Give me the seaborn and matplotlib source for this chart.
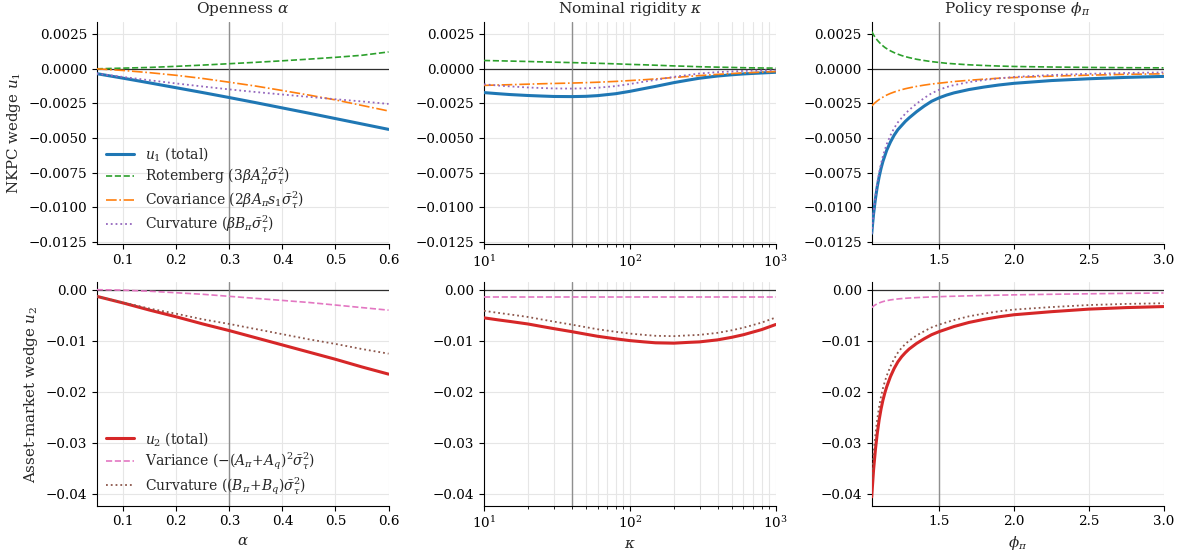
import numpy as np
import pandas as pd
import matplotlib
matplotlib.use("Agg")
import matplotlib.pyplot as plt
import seaborn as sns

# ---------------- data ----------------
alpha = [0.05, 0.10, 0.15, 0.20, 0.25, 0.30, 0.35, 0.40, 0.45, 0.50, 0.55, 0.60]
a_u1 = [-0.00035, -0.00068, -0.00102, -0.00137, -0.00172, -0.00208, -0.00245, -0.00283, -0.00321, -0.0036, -0.00399, -0.00438]
a_rot = [0.0, 0.00005, 0.0001, 0.00018, 0.00027, 0.00037, 0.00047, 0.00058, 0.0007, 0.00083, 0.00098, 0.00122]
a_cov = [0.0, -0.00012, -0.00028, -0.00047, -0.0007, -0.00097, -0.00125, -0.00157, -0.0019, -0.00225, -0.00265, -0.00305]
a_curv1 = [-0.00035, -0.00059, -0.00083, -0.00106, -0.00128, -0.00149, -0.00168, -0.00186, -0.00203, -0.00220, -0.00236, -0.00254]
a_u2 = [-0.0013, -0.0026, -0.0040, -0.0053, -0.0067, -0.0080, -0.0094, -0.0108, -0.0122, -0.0136, -0.0151, -0.0165]
a_var = [0.0, -0.0001, -0.0003, -0.0006, -0.0009, -0.0013, -0.0017, -0.0021, -0.0025, -0.0030, -0.0035, -0.0040]
a_curv2 = [-0.0013, -0.0025, -0.0037, -0.0047, -0.0058, -0.0067, -0.0077, -0.0087, -0.0097, -0.0106, -0.0116, -0.0125]

kappa = [10, 12.5, 15, 20, 25, 30, 40, 50, 60, 80, 100, 125, 150, 200, 250, 300, 400, 500, 600, 800, 1000]
k_u1 = [-0.00172, -0.0018, -0.00186, -0.00193, -0.00197, -0.0020, -0.00201, -0.00199, -0.00194, -0.0018, -0.00163,
        -0.00143, -0.00127, -0.0010, -0.00082, -0.00068, -0.00052, -0.00043, -0.00037, -0.0003, -0.00025]
k_rot = [0.0006, 0.00058, 0.00056, 0.00053, 0.0005, 0.00048, 0.00045, 0.00042, 0.0004, 0.00036, 0.00032,
         0.00029, 0.00026, 0.00021, 0.00018, 0.00015, 0.00012, 0.0001, 0.00008, 0.00006, 0.00005]
k_cov = [-0.0012, -0.00117, -0.00115, -0.00111, -0.00108, -0.00106, -0.00103, -0.0010, -0.00097, -0.00091, -0.00085,
         -0.00079, -0.00073, -0.00063, -0.00055, -0.00049, -0.0004, -0.00034, -0.0003, -0.00024, -0.0002]
k_curv1 = [-0.00112, -0.00121, -0.00127, -0.00135, -0.00139, -0.00142, -0.00143, -0.00141, -0.00137, -0.00125, -0.0011,
           -0.00093, -0.0008, -0.00058, -0.00045, -0.00034, -0.00024, -0.00019, -0.00015, -0.00012, -0.0001]
k_u2 = [-0.0055, -0.0059, -0.0062, -0.0067, -0.0072, -0.0076, -0.0082, -0.0087, -0.0091, -0.0096, -0.00995,
        -0.0102, -0.01038, -0.01045, -0.0103, -0.0102, -0.0098, -0.0093, -0.0088, -0.0078, -0.0068]
k_var = [-0.00137] * 21
k_curv2 = [-0.00413, -0.00453, -0.00483, -0.00533, -0.00583, -0.00623, -0.00683, -0.00733, -0.00773, -0.00823, -0.00858,
           -0.00883, -0.00901, -0.00908, -0.00893, -0.00883, -0.00843, -0.00793, -0.00743, -0.00643, -0.00543]

phi = [1.05, 1.0625, 1.075, 1.0875, 1.10, 1.1125, 1.125, 1.1375, 1.15, 1.175, 1.20, 1.225, 1.25, 1.275, 1.30,
       1.35, 1.40, 1.45, 1.50, 1.55, 1.60, 1.70, 1.80, 1.90, 2.00, 2.25, 2.50, 2.75, 3.00]
p_u1 = [-0.0119, -0.0105, -0.0094, -0.0085, -0.0078, -0.0072, -0.0067, -0.0063, -0.0059, -0.0053, -0.0048, -0.0044,
        -0.0041, -0.0038, -0.00355, -0.0031, -0.0027, -0.00235, -0.0021, -0.0019, -0.00174, -0.0015, -0.00132,
        -0.00117, -0.00105, -0.00085, -0.00072, -0.00062, -0.00055]
p_rot = [0.0027, 0.00245, 0.00225, 0.00207, 0.00192, 0.00178, 0.00166, 0.00155, 0.00146, 0.0013, 0.00117, 0.00106,
         0.00096, 0.00088, 0.00081, 0.00069, 0.0006, 0.00052, 0.00046, 0.0004, 0.00036, 0.00029, 0.00024, 0.0002,
         0.00017, 0.00013, 0.0001, 0.00008, 0.00007]
p_cov = [-0.00268, -0.00255, -0.00243, -0.00232, -0.00222, -0.00213, -0.00205, -0.00197, -0.0019, -0.00178, -0.00168,
         -0.00159, -0.00151, -0.00144, -0.00138, -0.00127, -0.00118, -0.0011, -0.00104, -0.00098, -0.00092, -0.00083,
         -0.00075, -0.00068, -0.00063, -0.00053, -0.00046, -0.0004, -0.00036]
p_curv1 = [-0.01192, -0.0104, -0.00922, -0.00825, -0.0075, -0.00685, -0.00631, -0.00588, -0.00546, -0.00482, -0.00429,
           -0.00387, -0.00355, -0.00324, -0.00298, -0.00252, -0.00212, -0.00177, -0.00152, -0.00132, -0.00118,
           -0.00096, -0.00081, -0.00069, -0.00059, -0.00045, -0.00036, -0.0003, -0.00026]
p_u2 = [-0.0405, -0.0352, -0.0312, -0.0280, -0.0254, -0.0233, -0.0216, -0.0202, -0.0190, -0.0170, -0.0154, -0.0141,
        -0.0131, -0.0123, -0.0116, -0.0105, -0.0096, -0.0088, -0.0082, -0.0077, -0.0072, -0.0064, -0.0058, -0.0053,
        -0.0049, -0.0043, -0.0038, -0.0035, -0.0033]
p_var = [-0.0035, -0.0032, -0.00295, -0.00275, -0.0026, -0.00245, -0.00233, -0.00223, -0.00215, -0.0020, -0.0019,
         -0.00181, -0.00174, -0.00168, -0.00163, -0.00155, -0.00148, -0.00142, -0.00137, -0.00132, -0.00128,
         -0.0012, -0.00113, -0.00107, -0.00101, -0.0009, -0.0008, -0.00072, -0.00065]
p_curv2 = [-0.0370, -0.0320, -0.02825, -0.02525, -0.0228, -0.02085, -0.01927, -0.01797, -0.01685, -0.0150, -0.0135,
           -0.01229, -0.01136, -0.01062, -0.00997, -0.00895, -0.00812, -0.00738, -0.00683, -0.00638, -0.00592,
           -0.0052, -0.00467, -0.00423, -0.00389, -0.0034, -0.0030, -0.00278, -0.00265]

ref_alpha, ref_kappa, ref_phi = 0.3, 40, 1.5

titles = [r"Openness $\alpha$", r"Nominal rigidity $\kappa$", r"Policy response $\phi_\pi$"]
xlabels = [r"$\alpha$", r"$\kappa$", r"$\phi_\pi$"]
ylabels = [r"NKPC wedge $u_1$", r"Asset-market wedge $u_2$"]
labels_u1 = [r"$u_1$ (total)", r"Rotemberg ($3\beta A_\pi^2\bar{\sigma}_\tau^2$)",
             r"Covariance ($2\beta A_\pi s_1\bar{\sigma}_\tau^2$)", r"Curvature ($\beta B_\pi\bar{\sigma}_\tau^2$)"]
labels_u2 = [r"$u_2$ (total)", r"Variance ($-(A_\pi\!+\!A_q)^2\bar{\sigma}_\tau^2$)",
             r"Curvature ($(B_\pi\!+\!B_q)\bar{\sigma}_\tau^2$)"]

# ---------------- style ----------------
sns.set_theme(style="ticks")
plt.rcParams["font.family"] = ["DejaVu Serif"]
plt.rcParams["mathtext.fontset"] = "dejavuserif"
plt.rcParams["axes.edgecolor"] = "black"
plt.rcParams["axes.linewidth"] = 0.8
plt.rcParams["xtick.color"] = "black"
plt.rcParams["ytick.color"] = "black"

fig = plt.figure(figsize=(11.81, 5.5), dpi=100)
lefts = [0.0819, 0.4098, 0.7381]
w = 0.2471
rows = [(0.5564, 0.4042), (0.0806, 0.4062)]
ylims = [(-0.01267, 0.00341), (-0.0422, 0.00145)]

xs = [alpha, kappa, phi]
refs = [ref_alpha, ref_kappa, ref_phi]
xlims = [(0.05, 0.6), (10, 1000), (1.05, 3.0)]
row1 = [(a_u1, a_rot, a_cov, a_curv1), (k_u1, k_rot, k_cov, k_curv1), (p_u1, p_rot, p_cov, p_curv1)]
row2 = [(a_u2, a_var, a_curv2), (k_u2, k_var, k_curv2), (p_u2, p_var, p_curv2)]

sty1 = [("tab:blue", "-", 2.2), ("tab:green", "--", 1.2), ("tab:orange", "-.", 1.2), ("tab:purple", ":", 1.3)]
sty2 = [("tab:red", "-", 2.2), ("tab:pink", "--", 1.2), ("tab:brown", ":", 1.3)]

for r in range(2):
    for c in range(3):
        b, h = rows[r]
        ax = fig.add_axes([lefts[c], b, w, h])
        series = row1[c] if r == 0 else row2[c]
        styles = sty1 if r == 0 else sty2
        labs = labels_u1 if r == 0 else labels_u2
        ax.axhline(0, color="black", lw=0.9, alpha=0.8, zorder=1)
        ax.axvline(refs[c], color="gray", lw=1.0, alpha=0.85, zorder=1)
        for ys, (col, ls, lw), lab in zip(series, styles, labs):
            df = pd.DataFrame({"x": xs[c], "y": ys})
            sns.lineplot(data=df, x="x", y="y", ax=ax, color=col, linestyle=ls, lw=lw,
                         label=lab if c == 0 else None, legend=False, zorder=3)
        if c == 1:
            ax.set_xscale("log")
            ax.grid(True, which="both", color="#e6e6e6", lw=0.8)
        else:
            ax.grid(True, which="major", color="#e6e6e6", lw=0.8)
        ax.set_axisbelow(True)
        ax.set_xlim(*xlims[c])
        ax.set_ylim(*ylims[r])
        ax.tick_params(axis="both", which="major", labelsize=9.7, length=3.5, width=0.8, direction="out")
        ax.tick_params(axis="both", which="minor", length=2, width=0.6, direction="out")
        sns.despine(ax=ax)
        ax.set_ylabel(ylabels[r] if c == 0 else "", fontsize=10.8)
        ax.set_xlabel(xlabels[c] if r == 1 else "", fontsize=10.8)
        if r == 0:
            ax.set_title(titles[c], fontsize=11.1)
        if c == 0:
            ax.legend(loc="lower left", frameon=False, fontsize=10, labelspacing=0.22,
                      borderaxespad=0.25)

fig.savefig("out.png", dpi=100)
